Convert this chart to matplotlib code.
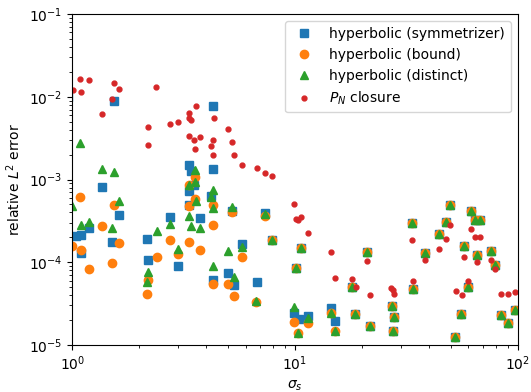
import matplotlib
matplotlib.use("Agg")
import matplotlib.pyplot as plt

# points where all three hyperbolic variants give (nearly) the same error
shared_x = [10.64, 10.07, 21.12, 18.08, 27.2, 27.83, 18.6, 21.72, 27.54,
            33.42, 49.82, 61.51, 47.8, 64.3, 67.95, 44.18, 57.58, 38.47,
            65.63, 75.88, 79.33, 59.98, 33.98, 55.83, 84.14, 90.45, 97.6, 52.4]
shared_y = [1.50e-4, 8.45e-5, 1.34e-4, 5.06e-5, 2.96e-5, 2.20e-5, 2.35e-5, 1.70e-5, 1.49e-5,
            2.96e-4, 4.87e-4, 4.20e-4, 3.09e-4, 3.24e-4, 3.27e-4, 2.21e-4, 1.57e-4, 1.30e-4,
            1.22e-4, 1.36e-4, 9.34e-5, 5.06e-5, 4.79e-5, 2.37e-5, 2.31e-5, 1.86e-5, 2.65e-5, 1.26e-5]

sym_x = [0.96, 1.546, 1.364, 1.626, 2.746, 1.185, 1.039, 1.091, 2.177, 1.512, 1.098, 2.194, 2.999,
         4.297, 3.342, 3.41, 4.297, 3.53, 3.342, 3.342, 4.2, 5.213, 7.31, 3.745, 5.80, 7.91,
         5.017, 5.322, 4.27, 6.72,
         9.93, 10.4, 11.47, 14.51, 15.2]
sym_y = [1.0e-2, 8.81e-3, 8.05e-4, 3.69e-4, 3.52e-4, 2.57e-4, 2.08e-4, 2.15e-4, 1.93e-4, 1.74e-4, 1.28e-4, 1.06e-4, 8.93e-5,
         7.73e-3, 1.51e-3, 1.28e-3, 1.35e-3, 8.58e-4, 7.33e-4, 4.96e-4, 6.32e-4, 4.16e-4, 3.91e-4, 3.40e-4, 1.65e-4, 1.87e-4,
         7.35e-5, 5.26e-5, 6.10e-5, 5.82e-5,
         2.42e-5, 2.05e-5, 2.24e-5, 2.83e-5, 1.94e-5]

bound_x = [1.083, 1.544, 1.364, 2.746, 1.626, 1.0, 1.098, 2.39, 3.0, 1.51, 1.185, 2.194, 2.177,
           3.567, 3.342, 3.567, 3.342, 4.297, 5.213, 7.31, 4.297, 3.35, 3.745, 5.80, 7.91,
           4.27, 5.017, 5.322, 6.70,
           9.93, 11.47, 14.51, 15.13, 10.35]
bound_y = [6.10e-4, 4.92e-4, 2.74e-4, 1.87e-4, 1.69e-4, 1.56e-4, 1.39e-4, 1.16e-4, 1.25e-4, 9.80e-5, 8.22e-5, 6.15e-5, 4.17e-5,
           1.06e-3, 8.58e-4, 5.86e-4, 4.82e-4, 4.96e-4, 4.01e-4, 3.65e-4, 2.82e-4, 1.74e-4, 1.39e-4, 1.16e-4, 1.85e-4,
           5.46e-5, 5.46e-5, 3.91e-5, 3.31e-5,
           1.91e-5, 1.86e-5, 2.46e-5, 1.49e-5, 1.41e-5]

dist_x = [1.083, 1.364, 1.546, 1.626, 1.0, 1.094, 1.185, 1.51, 2.746, 2.39, 2.999, 2.194, 2.177,
          3.567, 3.55, 3.342, 4.297, 4.209, 3.58, 5.213, 4.297, 7.31, 3.35, 3.41, 3.745, 5.80, 5.017,
          7.91, 4.27, 5.322, 6.70,
          9.93, 11.47, 14.51, 15.13, 10.35]
dist_y = [2.74e-3, 1.35e-3, 1.23e-3, 5.50e-4, 4.82e-4, 2.82e-4, 3.04e-4, 2.62e-4, 2.92e-4, 2.39e-4, 1.45e-4, 7.69e-5, 5.73e-5,
          1.30e-3, 9.40e-4, 8.51e-4, 7.54e-4, 6.10e-4, 5.50e-4, 4.61e-4, 4.55e-4, 3.83e-4, 3.65e-4, 2.74e-4, 2.57e-4, 1.54e-4, 1.37e-4,
          1.86e-4, 9.01e-5, 6.58e-5, 3.40e-5,
          2.86e-5, 2.10e-5, 2.46e-5, 1.49e-5, 1.41e-5]

pn_x = [1.083, 1.185, 1.544, 1.626, 2.388, 1.01, 1.098, 1.512, 1.364, 2.18, 2.746, 3.0, 2.194,
        3.58, 3.342, 3.342, 3.43, 4.31, 5.017, 3.35, 3.53, 3.745, 4.297, 5.213, 3.567, 4.209, 4.29,
        5.322, 5.80, 6.72, 7.31, 7.91,
        9.93, 10.07, 10.35, 10.64, 11.47, 14.51, 21.12, 15.2, 18.08, 18.7, 21.72, 27.1, 27.54, 27.83,
        33.42, 49.82, 61.51, 47.8, 44.18, 38.47, 57.58, 64.3, 67.95, 65.63, 75.88, 79.33,
        33.98, 59.98, 52.6, 56.23, 84.14, 90.5, 97.7]
pn_y = [1.625e-2, 1.58e-2, 1.48e-2, 1.23e-2, 1.30e-2, 1.21e-2, 1.14e-2, 9.39e-3, 6.19e-3, 4.31e-3, 4.72e-3, 4.95e-3, 2.63e-3,
        7.73e-3, 6.31e-3, 5.49e-3, 5.24e-3, 5.59e-3, 4.04e-3, 3.33e-3, 3.00e-3, 3.27e-3, 3.03e-3, 2.86e-3, 2.32e-3, 2.56e-3, 1.98e-3,
        1.96e-3, 1.486e-3, 1.39e-3, 1.19e-3, 1.10e-3,
        5.10e-4, 3.33e-4, 3.24e-4, 3.55e-4, 2.24e-4, 1.34e-4, 1.035e-4, 6.45e-5, 6.33e-5, 4.98e-5, 4.02e-5, 4.92e-5, 4.58e-5, 4.10e-5,
        1.86e-4, 2.84e-4, 2.50e-4, 1.91e-4, 1.46e-4, 1.05e-4, 1.15e-4, 2.00e-4, 2.00e-4, 1.02e-4, 1.06e-4, 8.22e-5,
        5.98e-5, 5.93e-5, 4.45e-5, 4.06e-5, 4.17e-5, 4.10e-5, 4.33e-5]

labels = ["hyperbolic (symmetrizer)", "hyperbolic (bound)", "hyperbolic (distinct)", r"$P_N$ closure"]

fig = plt.figure(figsize=(5.31, 3.92), dpi=100)
ax = fig.add_axes([0.136, 0.12, 0.839, 0.844])

ax.plot(sym_x + shared_x, sym_y + shared_y, 's', color='C0', ms=6, label=labels[0])
ax.plot(bound_x + shared_x, bound_y + shared_y, 'o', color='C1', ms=6, label=labels[1])
ax.plot(dist_x + shared_x, dist_y + shared_y, '^', color='C2', ms=6, label=labels[2])
ax.plot(pn_x, pn_y, 'o', color='C3', ms=3.5, label=labels[3])

ax.set_xscale('log')
ax.set_yscale('log')
ax.set_xlim(1, 100)
ax.set_ylim(1e-5, 1e-1)
ax.set_xlabel(r"$\sigma_s$")
ax.set_ylabel(r"relative $L^2$ error")
ax.legend(loc='upper right')

fig.savefig("out.png", dpi=100)
